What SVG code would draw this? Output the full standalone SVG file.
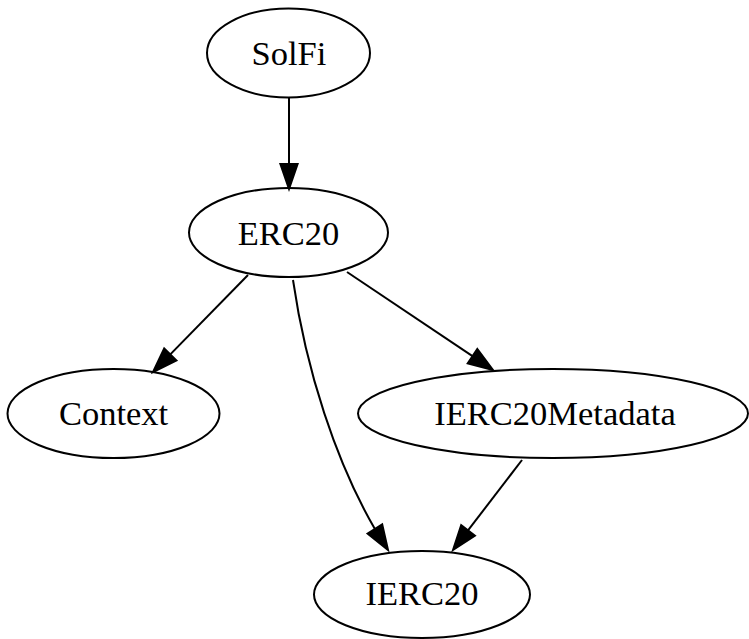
<svg xmlns="http://www.w3.org/2000/svg" width="749" height="639" viewBox="0 0 749 639">
<style>
.node ellipse{fill:none;stroke:#000;stroke-width:2}
.node text{font-family:"Liberation Serif","Times New Roman",serif;font-size:34.5px;fill:#000;text-anchor:middle}
.edge path{fill:none;stroke:#000;stroke-width:2}
.edge polygon{fill:#000;stroke:#000;stroke-width:2}
</style>
<rect width="749" height="639" fill="#fff"/>
<g id="connectors">
<g class="edge" id="e-solfi-erc20">
<path d="M289,98 L289,164"/>
<polygon points="289,189 280.4,164 297.6,164"/>
</g>
<g class="edge" id="e-erc20-context">
<path d="M248,275 L170.3,354.4"/>
<polygon points="153,372 176.4,360.4 164.2,348.4"/>
</g>
<g class="edge" id="e-erc20-meta">
<path d="M347,272 L472.5,356.2"/>
<polygon points="493,370 467.7,363.4 477.3,349.1"/>
</g>
<g class="edge" id="e-erc20-ierc20">
<path d="M293,280 C306,370 336,462 374.9,529"/>
<polygon points="388,550 367.6,533.6 382.2,524.4"/>
</g>
<g class="edge" id="e-meta-ierc20">
<path d="M522,460 L468,530.4"/>
<polygon points="453,550 474.9,535.6 461.2,525.2"/>
</g>
</g>
<g class="node" id="SolFi">
<ellipse cx="288.5" cy="53" rx="81.5" ry="44.5"/>
<text x="289" y="65">SolFi</text>
</g>
<g class="node" id="ERC20">
<ellipse cx="288.5" cy="232.5" rx="99.5" ry="44.5"/>
<text x="288.5" y="245">ERC20</text>
</g>
<g class="node" id="Context">
<ellipse cx="113.5" cy="413.5" rx="106" ry="44.5"/>
<text x="113.5" y="425">Context</text>
</g>
<g class="node" id="IERC20Metadata">
<ellipse cx="553" cy="413.5" rx="195" ry="44.5"/>
<text x="555" y="425">IERC20Metadata</text>
</g>
<g class="node" id="IERC20">
<ellipse cx="422" cy="594.5" rx="108" ry="43.5"/>
<text x="422" y="605">IERC20</text>
</g>
</svg>
